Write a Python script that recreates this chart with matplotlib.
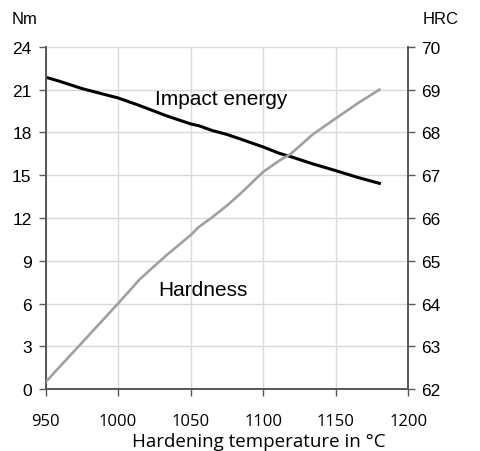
import matplotlib
matplotlib.use("Agg")
import matplotlib.pyplot as plt

# hardening temperature (deg C)
temp = [950, 960, 975, 1000, 1015, 1033, 1050, 1056, 1065, 1075, 1084, 1100, 1111, 1119, 1134, 1150, 1165, 1180]
# impact energy (Nm), left axis
impact = [21.88, 21.58, 21.08, 20.42, 19.88, 19.18, 18.6, 18.46, 18.13, 17.86, 17.55, 16.98, 16.54, 16.3, 15.8, 15.32, 14.85, 14.43]
# hardness (HRC), right axis
hardness = [62.16, 62.53, 63.08, 64.0, 64.57, 65.12, 65.6, 65.8, 66.02, 66.29, 66.56, 67.08, 67.34, 67.5, 67.95, 68.33, 68.68, 69.0]

x_ticks = [950, 1000, 1050, 1100, 1150, 1200]
nm_ticks = [0, 3, 6, 9, 12, 15, 18, 21, 24]
hrc_ticks = [62, 63, 64, 65, 66, 67, 68, 69, 70]

tick_font = "Liberation Sans"
label_font = "Open Sans"
spine_col = "#595959"
grid_col = "#d9d9d9"

fig = plt.figure(figsize=(4.81, 4.52), dpi=100)
ax = fig.add_axes([0.0946, 0.137, 0.7544, 0.757])
ax2 = ax.twinx()

ax.plot(temp, impact, color="black", lw=2.2, zorder=3)
ax2.plot(temp, hardness, color="#a0a0a0", lw=1.9, zorder=3)

ax.set_xlim(950, 1200)
ax.set_ylim(0, 24)
ax2.set_ylim(62, 70)
ax.set_xticks(x_ticks)
ax.set_yticks(nm_ticks)
ax2.set_yticks(hrc_ticks)

ax.grid(True, color=grid_col, lw=1.0, zorder=0)
ax.set_axisbelow(True)

for a in (ax, ax2):
    a.spines["top"].set_visible(False)
    for s in ("left", "right", "bottom"):
        a.spines[s].set_color(spine_col)
        a.spines[s].set_linewidth(1.3)
    a.tick_params(length=5, width=1.0, color=spine_col)

ax.tick_params(axis="y", labelsize=12.5, pad=5)
ax2.tick_params(axis="y", labelsize=12.5, pad=4)
ax.tick_params(axis="x", labelsize=12, pad=12)
for lab in ax.get_yticklabels() + ax2.get_yticklabels():
    lab.set_fontfamily(tick_font)
for lab in ax.get_xticklabels():
    lab.set_fontfamily(label_font)

ax.set_xlabel("Hardening temperature in °C", fontsize=13.5, family=label_font)
ax.xaxis.set_label_coords(0.588, -0.125)

fig.text(12 / 481, 1 - 20 / 452, "Nm", fontsize=12, family=tick_font, va="center", ha="left")
fig.text(423 / 481, 1 - 20 / 452, "HRC", fontsize=12, family=tick_font, va="center", ha="left")

ax.text(1025.4, 20.4, "Impact energy", fontsize=15, family=tick_font, va="center", ha="left")
ax.text(1027.5, 6.97, "Hardness", fontsize=15, family=tick_font, va="center", ha="left")

fig.savefig("out.png", dpi=100)
plt.close(fig)
